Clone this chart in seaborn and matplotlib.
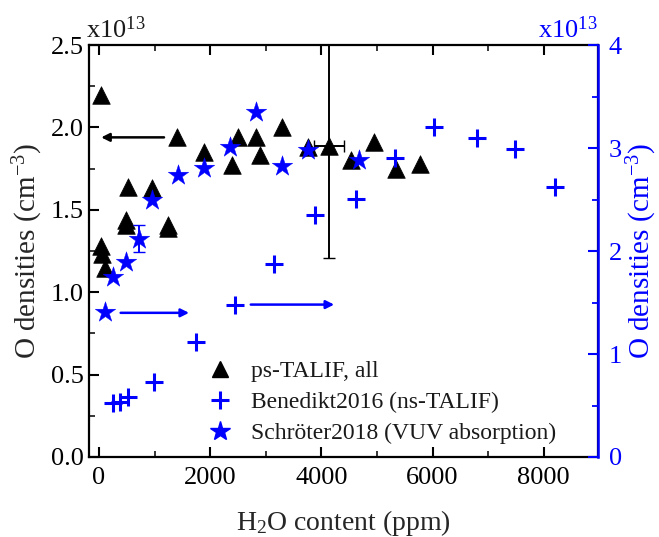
"""O density vs H2O content: ps-TALIF compared with literature values."""

import matplotlib.pyplot as plt
import matplotlib.ticker as mtick
import numpy as np
import pandas as pd
import seaborn as sns
from matplotlib.lines import Line2D

BLUE = "#0000FF"

# ps-TALIF (left axis, x1e13 cm^-3)
talif_h2o = [36, 36, 60, 110, 530, 490, 490, 950, 1240, 1240, 1400, 1890, 2390, 2500,
             2820, 2890, 3300, 3760, 4130, 4530, 4940, 5340, 5770]
talif_o = [2.20, 1.28, 1.23, 1.15, 1.64, 1.44, 1.41, 1.63, 1.41, 1.39, 1.94, 1.85, 1.77, 1.94,
           1.94, 1.83, 2.00, 1.88, 1.89, 1.80, 1.91, 1.75, 1.78]

# Benedikt2016 ns-TALIF (right axis, x1e13 cm^-3)
bened_h2o = [250, 380, 520, 990, 1740, 2440, 3150, 3880, 4620, 5320, 6030, 6790, 7490, 8210]
bened_o = [0.52, 0.53, 0.58, 0.73, 1.12, 1.48, 1.87, 2.35, 2.51, 2.90, 3.20, 3.10, 2.99, 2.62]

# Schroeter2018 VUV absorption (right axis, x1e13 cm^-3)
schr_h2o = [110, 250, 490, 720, 950, 1420, 1890, 2350, 2820, 3290, 3760, 4670]
schr_o = [1.41, 1.75, 1.89, 2.12, 2.50, 2.74, 2.81, 3.01, 3.35, 2.83, 2.98, 2.88]

talif = pd.DataFrame({"h2o": talif_h2o, "o": talif_o})
bened = pd.DataFrame({"h2o": bened_h2o, "o": bened_o})
schr = pd.DataFrame({"h2o": schr_h2o, "o": schr_o})

sns.set_theme(style="white")
plt.rcParams.update({
    "font.family": ["Liberation Serif", "DejaVu Serif"],
    "mathtext.fontset": "custom",
    "mathtext.rm": "Liberation Serif",
    "mathtext.it": "Liberation Serif:italic",
    "axes.edgecolor": "black",
    "axes.linewidth": 1.6,
    "xtick.direction": "in",
    "ytick.direction": "in",
    "text.color": "#1a1a1a",
})

fig = plt.figure(figsize=(6.59, 5.37), dpi=100)
ax = fig.add_axes([0.135, 0.149, 0.772, 0.767])
ax2 = ax.twinx()

sns.scatterplot(data=talif, x="h2o", y="o", ax=ax, marker="^", s=160, color="black",
                edgecolor="black", linewidth=0.5, zorder=3, legend=False)
sns.scatterplot(data=bened, x="h2o", y="o", ax=ax2, marker="+", s=150, color=BLUE,
                linewidth=2.2, zorder=3, legend=False)
sns.scatterplot(data=schr, x="h2o", y="o", ax=ax2, marker="*", s=240, color=BLUE,
                edgecolor=BLUE, linewidth=0.3, zorder=3, legend=False)

# error bars
ax.errorbar([4130], [1.89], yerr=[[0.68], [0.68]], xerr=[[270], [270]], fmt="none",
            ecolor="black", elinewidth=1.4, capsize=4, zorder=2)
ax2.errorbar([720], [2.12], yerr=[[0.13], [0.13]], fmt="none", ecolor=BLUE,
             elinewidth=1.4, capsize=4, zorder=2)

# axis-pointing arrows
ax.annotate("", xy=(-10, 1.94), xytext=(1220, 1.94),
            arrowprops=dict(arrowstyle="-|>", color="black", lw=1.8, mutation_scale=12))
ax2.annotate("", xy=(1670, 1.40), xytext=(340, 1.40),
             arrowprops=dict(arrowstyle="-|>", color=BLUE, lw=1.8, mutation_scale=12))
ax2.annotate("", xy=(4280, 1.48), xytext=(2680, 1.48),
             arrowprops=dict(arrowstyle="-|>", color=BLUE, lw=1.8, mutation_scale=12))

ax.set_xlim(-180, 8970)
ax.set_ylim(0, 2.5)
ax2.set_ylim(0, 4)

ax.xaxis.set_major_locator(mtick.MultipleLocator(2000))
ax.xaxis.set_minor_locator(mtick.MultipleLocator(1000))
ax.yaxis.set_major_locator(mtick.MultipleLocator(0.5))
ax.yaxis.set_minor_locator(mtick.MultipleLocator(0.25))
ax.yaxis.set_major_formatter(mtick.FormatStrFormatter("%.1f"))
ax2.yaxis.set_major_locator(mtick.MultipleLocator(1))
ax2.yaxis.set_minor_locator(mtick.MultipleLocator(0.5))

ax.tick_params(axis="both", which="major", labelsize=19, length=7, width=1.5, top=True,
               bottom=True, left=True, right=False, colors="black", pad=4)
ax.tick_params(axis="x", which="major", pad=7)
ax.tick_params(axis="both", which="minor", length=4, width=1.3, top=True, bottom=True,
               left=True, right=False)
ax.tick_params(axis="x", which="both", labeltop=False)
ax2.tick_params(axis="y", which="major", labelsize=19, length=7, width=1.5,
                colors=BLUE, right=True, pad=8)
ax2.tick_params(axis="y", which="minor", length=4, width=1.3, colors=BLUE, right=True)

for name in ["left", "bottom", "top"]:
    ax.spines[name].set_color("black")
ax2.spines["right"].set_color(BLUE)
ax2.spines["right"].set_linewidth(1.8)
for name in ["left", "bottom", "top"]:
    ax2.spines[name].set_visible(False)

ax.set_xlabel("H$_2$O content (ppm)", fontsize=20, labelpad=14)
ax.set_ylabel("O densities (cm$^{-3}$)", fontsize=21, labelpad=4)
ax2.set_ylabel("O densities (cm$^{-3}$)", fontsize=21, color=BLUE, labelpad=2)
ax2.set_xlabel("")

ax.text(-0.005, 1.005, "x10$^{13}$", transform=ax.transAxes, fontsize=19, ha="left", va="bottom")
ax2.text(1.0, 1.005, "x10$^{13}$", transform=ax2.transAxes, fontsize=19, ha="right",
         va="bottom", color=BLUE)

handles = [
    Line2D([], [], ls="none", marker="^", ms=12, color="black"),
    Line2D([], [], ls="none", marker="+", ms=13, mew=2.2, color=BLUE),
    Line2D([], [], ls="none", marker="*", ms=15, color=BLUE),
]
labels = ["ps-TALIF, all", "Benedikt2016 (ns-TALIF)", "Schröter2018 (VUV absorption)"]
ax.legend(handles, labels, loc="lower left", bbox_to_anchor=(0.195, 0.0), frameon=False,
          fontsize=17, handlelength=1.6, handletextpad=0.5, labelspacing=0.4,
          borderaxespad=0.15)

fig.savefig("out.png", dpi=100, facecolor="white")
